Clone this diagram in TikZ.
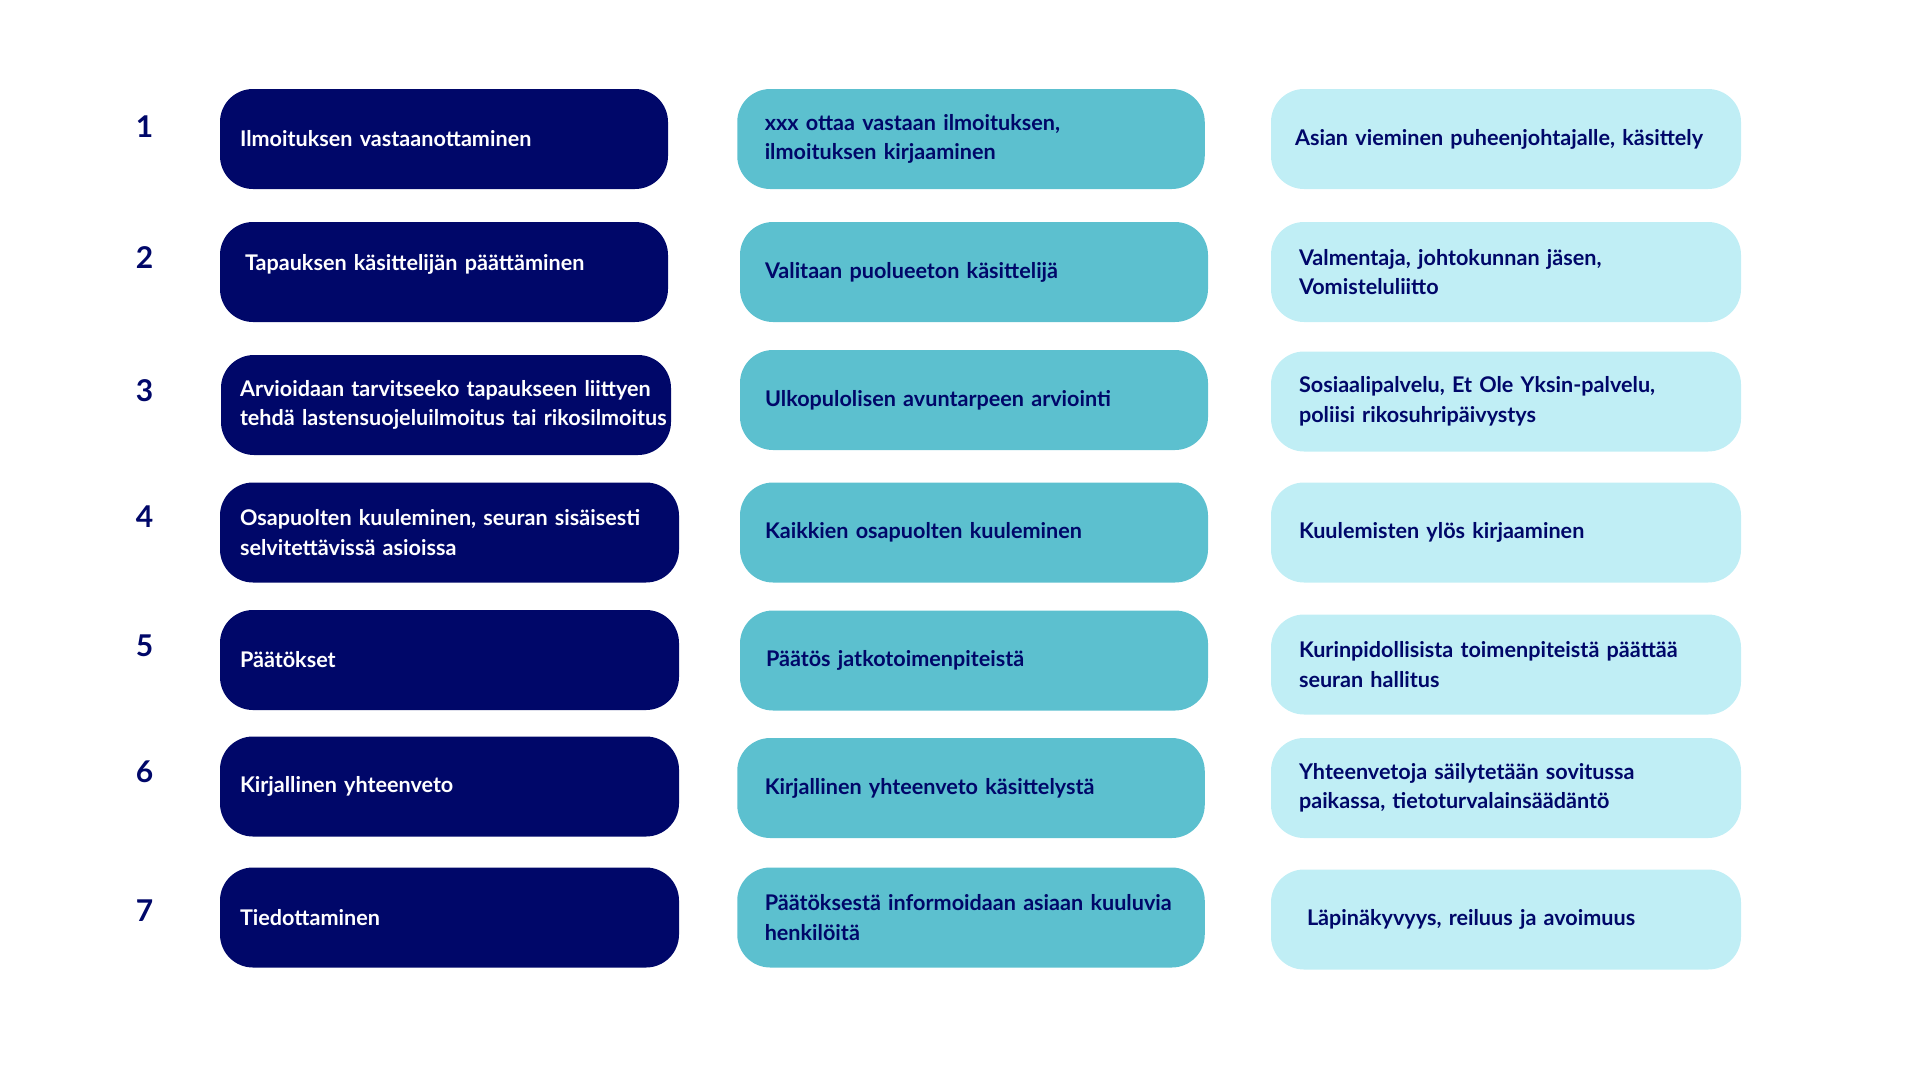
\documentclass[tikz,border=0pt]{standalone}
\usepackage{fontspec}
\setmainfont{Lato}
\usepackage{xcolor}
\usepackage{tikz}
\definecolor{navyBlue}{RGB}{0,7,105}
\definecolor{midTeal}{RGB}{92,192,207}
\definecolor{paleCyan}{RGB}{192,238,245}
\tikzset{
num/.style = {text=navyBlue, inner sep=0pt,
              font=\bfseries\fontsize{30pt}{36pt}\selectfont}
}
\tikzset{
box/.style = {rectangle, rounded corners=33pt, minimum height=100pt,
              inner ysep=0pt, align=left, text width=#1,
              font=\bfseries\fontsize{21.6pt}{29.5pt}\selectfont},
box/.default = 408pt, % width of the text inside
taskBox/.style = {box=#1, fill=navyBlue, text=white, inner xsep=20pt},
taskBox/.default = 408pt,
actBox/.style = {box=#1, fill=midTeal, text=navyBlue, inner xsep=27.5pt},
actBox/.default = 412.5pt,
infoBox/.style = {box=#1, fill=paleCyan, text=navyBlue, inner xsep=28pt},
infoBox/.default = 414pt
}

\begin{document}
\begin{tikzpicture}[x=1pt, y=-1pt]
  \useasboundingbox (0,0) rectangle (1920,1080);

  % Numbers
    \node[num] (num1) at (144.5,127) {1};
    \node[num] (num2) at (144.5,258) {2};
    \node[num] (num3) at (144.5,391) {3};
    \node[num] (num4) at (144.5,517) {4};
    \node[num] (num5) at (144.5,646) {5};
    \node[num] (num6) at (144.5,772) {6};
    \node[num] (num7) at (144.5,911) {7};

  % Boxes, first column
    \node[taskBox] (taskBox1) at (444,139) {Ilmoituksen vastaanottaminen};
    \node[taskBox=398pt, inner xsep=25pt, text depth=19.5pt] (taskBox2) at (444,272) {Tapauksen käsittelijän päättäminen};
    \node[taskBox=412pt, inner xsep=19pt] (taskBox3) at (446,405) {Arvioidaan tarvitseeko tapaukseen liittyen\\\mbox{tehdä lastensuojeluilmoitus tai rikosilmoitus}};
    \node[taskBox=419pt] (taskBox4) at (449.5,532.5) {Osapuolten kuuleminen, seuran sisäisesti\\selvitettävissä asioissa};
    \node[taskBox=419pt] (taskBox5) at (449.5,660) {Päätökset};
    \node[taskBox=419pt] (taskBox6) at (449.5,786.5) {Kirjallinen yhteenveto};
    \node[taskBox=419pt] (taskBox7) at (449.5,917.5) {Tiedottaminen};

  % Boxes, second column
    \node[actBox] (actBox1) at (971,139) {xxx ottaa vastaan ilmoituksen,\\ilmoituksen kirjaaminen};
    \node[actBox=418pt, inner xsep=25pt] (actBox2) at (974,272) {Valitaan puolueeton käsittelijä};
    \node[actBox=418pt, inner xsep=25pt] (actBox3) at (974,400) {Ulkopulolisen avuntarpeen arviointi};
    \node[actBox=418pt, inner xsep=25pt] (actBox4) at (974,532.5) {Kaikkien osapuolten kuuleminen};
    \node[actBox=416pt, inner xsep=26pt] (actBox5) at (974,660.5) {Päätös jatkotoimenpiteistä};
    \node[actBox] (actBox6) at (971,788) {Kirjallinen yhteenveto käsittelystä};
    \node[actBox] (actBox7) at (971,917.5) {Päätöksestä informoidaan asiaan kuuluvia\\henkilöitä};

  % Boxes, third column
    \node[infoBox=422pt, inner xsep=24pt] (infoBox1) at (1506,139) {Asian vieminen puheenjohtajalle, käsittely};
    \node[infoBox] (infoBox2) at (1506,272) {Valmentaja, johtokunnan jäsen,\\Vomisteluliitto};
    \node[infoBox] (infoBox3) at (1506,401.5) {Sosiaalipalvelu, Et Ole Yksin-palvelu,\\poliisi rikosuhripäivystys};
    \node[infoBox] (infoBox4) at (1506,532.5) {Kuulemisten ylös kirjaaminen};
    \node[infoBox] (infoBox5) at (1506,664.5) {Kurinpidollisista toimenpiteistä päättää\\seuran hallitus};
    \node[infoBox] (infoBox6) at (1506,788) {Yhteenvetoja säilytetään sovitussa\\paikassa, tietoturvalainsäädäntö};
    \node[infoBox=398pt, inner xsep=36pt] (infoBox7) at (1506,919.5) {Läpinäkyvyys, reiluus ja avoimuus};
\end{tikzpicture}
\end{document}
